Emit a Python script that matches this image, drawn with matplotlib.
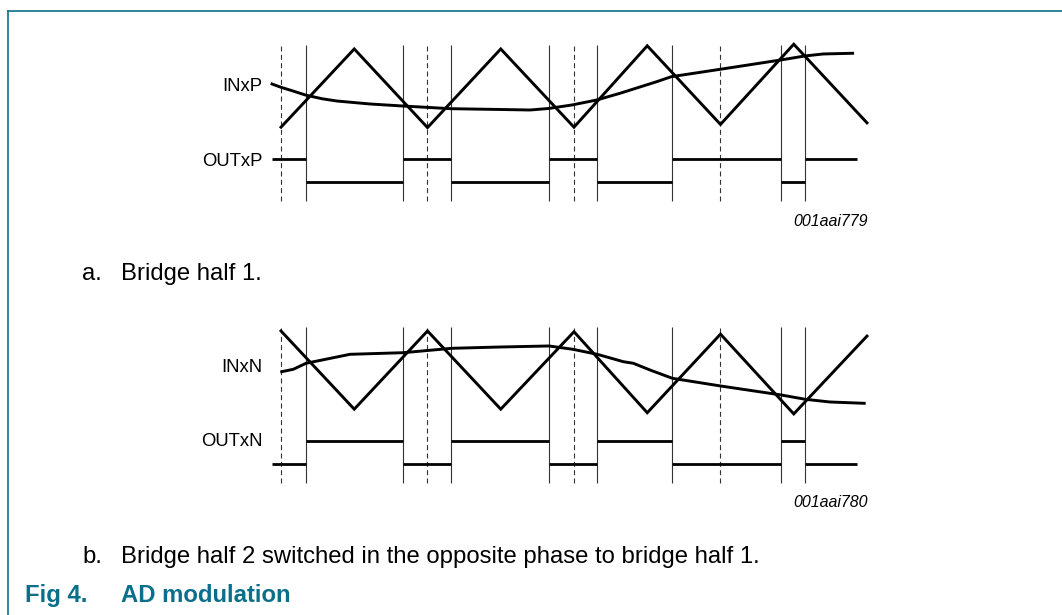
import matplotlib.pyplot as plt

plt.rcParams['font.family'] = ['Liberation Sans', 'DejaVu Sans']
plt.rcParams['lines.scale_dashes'] = False

W, H = 1062, 615
TEAL = '#0a6f8a'

# time in carrier periods, levels in carrier units (triangle ~ +-1)
carrier_t = [0, 0.5, 1, 1.5, 2, 2.5, 3, 3.5, 4]
carrier_p = [-1.03, 0.95, -1.04, 0.95, -1.03, 1.03, -0.96, 1.07, -0.92]
carrier_n = [0.95, -1.03, 0.95, -1.03, 0.93, -1.12, 0.87, -1.15, 0.82]

inp_t = [-0.061, 0.0, 0.082, 0.166, 0.28, 0.38, 0.608, 0.831, 1.16, 1.495, 1.70,
         1.825, 1.986, 2.155, 2.314, 2.565, 2.664, 2.997, 3.411, 3.575, 3.70, 3.902]
inp_v = [0.063, -0.02, -0.114, -0.215, -0.31, -0.367, -0.443, -0.494, -0.562, -0.582, -0.595,
         -0.557, -0.468, -0.342, -0.172, 0.122, 0.248, 0.435, 0.671, 0.772, 0.823, 0.841]

inn_t = [0.005, 0.084, 0.171, 0.471, 0.835, 1.165, 1.495, 1.83, 1.992, 2.159,
         2.337, 2.405, 2.519, 2.671, 3.001, 3.415, 3.579, 3.747, 3.981]
inn_v = [-0.081, -0.02, 0.132, 0.359, 0.40, 0.511, 0.544, 0.57, 0.486, 0.359,
         0.172, 0.132, -0.038, -0.248, -0.443, -0.671, -0.78, -0.848, -0.881]

switch_t = [0.169, 0.833, 1.162, 1.828, 2.157, 2.668, 3.413, 3.577]
dash_t = [0, 1, 2, 3]
out_start, out_end = -0.063, 3.93
out_hi, out_lo = -1.835, -2.41
line_top, line_bot = 1.04, -2.91

fig = plt.figure(figsize=(W / 100, H / 100), dpi=100)


def px(x, y):
    return x / W, 1 - y / H


def panel(top, carrier, in_t, in_v, first_high):
    ax = fig.add_axes([250 / W, 1 - (top + 185) / H, 650 / W, 185 / H])
    ax.set_xlim(-0.2116, 4.2253)
    ax.set_ylim(-3.253, 1.430)
    ax.axis('off')
    ax.vlines(switch_t, line_bot, line_top, color='#333333', lw=0.8)
    ax.vlines(dash_t, line_bot, line_top, color='#333333', lw=0.8,
              linestyles=[(0, (3.6, 2.4))])
    ax.plot(carrier_t, carrier, color='black', lw=2.1, solid_joinstyle='miter')
    ax.plot(in_t, in_v, color='black', lw=2.1)
    edges = [out_start] + switch_t + [out_end]
    levels = []
    for i in range(len(edges) - 1):
        high = (i % 2 == 0) == first_high
        levels.append(out_hi if high else out_lo)
    ax.hlines(levels, edges[:-1], edges[1:], color='black', lw=2.0)
    return ax


panel(30, carrier_p, inp_t, inp_v, True)
panel(312, carrier_n, inn_t, inn_v, False)

lab = dict(fontsize=13.3, ha='right', va='baseline')
fig.text(*px(262.5, 90.7), 'INxP', **lab)
fig.text(*px(262.5, 165.7), 'OUTxP', **lab)
fig.text(*px(262.5, 371.7), 'INxN', **lab)
fig.text(*px(262.5, 446), 'OUTxN', **lab)

code = dict(fontsize=11.5, style='italic', ha='left', va='baseline')
fig.text(*px(793, 226), '001aai779', **code)
fig.text(*px(793, 506.7), '001aai780', **code)

cap = dict(fontsize=17.2, ha='left', va='baseline')
fig.text(*px(82, 280), 'a.', **cap)
fig.text(*px(121, 280), 'Bridge half 1.', **cap)
fig.text(*px(82, 562.7), 'b.', **cap)
fig.text(*px(121, 562.7), 'Bridge half 2 switched in the opposite phase to bridge half 1.', **cap)
fig.text(*px(25, 602.3), 'Fig 4.', color=TEAL, fontweight='bold', **cap)
fig.text(*px(121, 602.3), 'AD modulation', color=TEAL, fontweight='bold', **cap)

# frame on the left and top
fig.add_artist(plt.Line2D([8.3 / W, 8.3 / W], [0, 1 - 11.3 / H], color=TEAL, lw=1.2))
fig.add_artist(plt.Line2D([8.3 / W, 1], [1 - 11.3 / H, 1 - 11.3 / H], color=TEAL, lw=1.2))

plt.savefig('out.png', dpi=100)
